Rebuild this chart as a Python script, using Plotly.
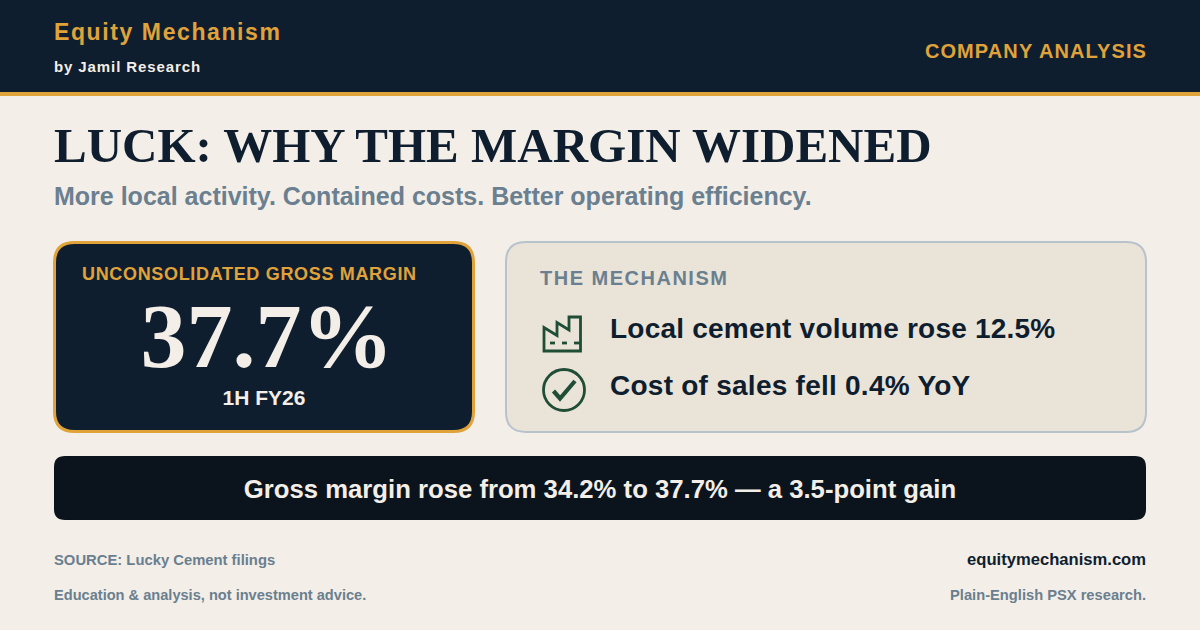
import json
import plotly.graph_objects as go

NAVY = '#0f1e2f'
INK = '#0b141d'
GOLD = '#e0a33a'
CREAM = '#f3eee7'
PANEL = '#eae3d8'
SLATE = '#6a7f8f'
EDGE = '#b8c2cc'
GREEN = '#1f4d36'
SANS = 'Liberation Sans'
SERIF = 'Liberation Serif'

brand = 'Equity Mechanism'
byline = 'by Jamil Research'
section = 'COMPANY ANALYSIS'
title = 'LUCK: WHY THE MARGIN WIDENED'
subtitle = 'More local activity. Contained costs. Better operating efficiency.'
card_label = 'UNCONSOLIDATED GROSS MARGIN'
card_value = '37.7%'
card_period = '1H FY26'
panel_label = 'THE MECHANISM'
points = ['Local cement volume rose 12.5%', 'Cost of sales fell 0.4% YoY']
banner = 'Gross margin rose from 34.2% to 37.7% — a 3.5-point gain'
source = 'SOURCE: Lucky Cement filings'
disclaimer = 'Education & analysis, not investment advice.'
site = 'equitymechanism.com'
tagline = 'Plain-English PSX research.'

# text, x, y, size, colour, font, anchor
labels = [
    (brand, 54, 34, 23, GOLD, SANS, 'middle right'),
    (byline, 54, 68, 15, CREAM, SANS, 'middle right'),
    (section, 1147, 53, 20, GOLD, SANS, 'middle left'),
    (title, 54, 150, 49, NAVY, SERIF, 'middle right'),
    (subtitle, 54, 199, 25, SLATE, SANS, 'middle right'),
    (card_label, 82, 275, 18, GOLD, SANS, 'middle right'),
    (card_value, 267, 344, 92, CREAM, SERIF, 'middle center'),
    (card_period, 264, 400, 21, CREAM, SANS, 'middle center'),
    (panel_label, 540, 280, 20, SLATE, SANS, 'middle right'),
    (points[0], 610, 331, 28, NAVY, SANS, 'middle right'),
    (points[1], 610, 388, 28, NAVY, SANS, 'middle right'),
    (banner, 600, 492, 25.7, CREAM, SANS, 'middle center'),
    (source, 54, 561, 14.8, SLATE, SANS, 'middle right'),
    (disclaimer, 54, 596, 14.6, SLATE, SANS, 'middle right'),
    (site, 1146, 561, 16.6, NAVY, SANS, 'middle left'),
    (tagline, 1146, 596, 14.7, SLATE, SANS, 'middle left'),
]

# plotly has no letter spacing option, set it on the svg after drawing
spacing = {brand: 1.6, byline: 0.9, section: 1.1, card_label: 0.67, panel_label: 1.5, points[0]: 0.22, points[1]: 0.25}


# Rounded box as an svg path, plotly shapes don't take arcs
def box(x0, y0, x1, y1, r):
    return (f'M{x0 + r},{y0} L{x1 - r},{y0} Q{x1},{y0} {x1},{y0 + r} L{x1},{y1 - r} Q{x1},{y1} {x1 - r},{y1} '
            f'L{x0 + r},{y1} Q{x0},{y1} {x0},{y1 - r} L{x0},{y0 + r} Q{x0},{y0} {x0 + r},{y0} Z')


fig = go.Figure()

for text, x, y, size, color, family, anchor in labels:
    fig.add_trace(go.Scatter(x=[x], y=[y], text=[text], mode='text', textposition=anchor, cliponaxis=False,
                             hoverinfo='skip',
                             textfont=dict(family=family, size=size, color=color, weight='bold')))

shapes = [
    dict(type='rect', x0=0, x1=1200, y0=0, y1=92, fillcolor=NAVY, line_width=0),
    dict(type='rect', x0=0, x1=1200, y0=92, y1=96, fillcolor=GOLD, line_width=0),
    dict(type='path', path=box(54.5, 242.5, 473.5, 431.5, 20), fillcolor=NAVY, line=dict(color=GOLD, width=3)),
    dict(type='path', path=box(506, 242, 1146, 432, 20), fillcolor=PANEL, line=dict(color=EDGE, width=2)),
    dict(type='path', path=box(54, 456, 1146, 520, 11), fillcolor=INK, line_width=0),
    # factory icon
    dict(type='path', path='M544,351 L544,327.5 L557,335.5 L557,322.5 L569,330 L569,317 L580.5,317 L580.5,351 Z',
         line=dict(color=GREEN, width=2.8)),
    dict(type='line', x0=550, x1=555, y0=343, y1=343, line=dict(color=GREEN, width=2.8)),
    dict(type='line', x0=562, x1=567, y0=343, y1=343, line=dict(color=GREEN, width=2.8)),
    dict(type='line', x0=574, x1=580, y0=343, y1=343, line=dict(color=GREEN, width=2.8)),
    # check icon
    dict(type='circle', x0=543.5, x1=584.5, y0=369.5, y1=410.5, line=dict(color=GREEN, width=2.8)),
    dict(type='path', path='M553.5,391 L560,398.5 L575,381', line=dict(color=GREEN, width=4.2)),
]

fig.update_layout(
    width=1200, height=630, margin=dict(l=0, r=0, t=0, b=0), showlegend=False,
    paper_bgcolor=CREAM, plot_bgcolor=CREAM, shapes=[dict(s, layer='below') for s in shapes],
    xaxis=dict(range=[0, 1200], visible=False, fixedrange=True),
    yaxis=dict(range=[630, 0], visible=False, fixedrange=True),
)

post = """
document.body.style.margin = '0';
document.body.style.background = '%s';
var sp = %s;
document.querySelectorAll('.textpoint text').forEach(function (t) {
    t.style.textRendering = 'optimizeSpeed';
    if (sp[t.textContent]) t.style.letterSpacing = sp[t.textContent] + 'px';
});
""" % (CREAM, json.dumps(spacing))

fig.write_html('out.html', config={'displayModeBar': False}, post_script=post)
